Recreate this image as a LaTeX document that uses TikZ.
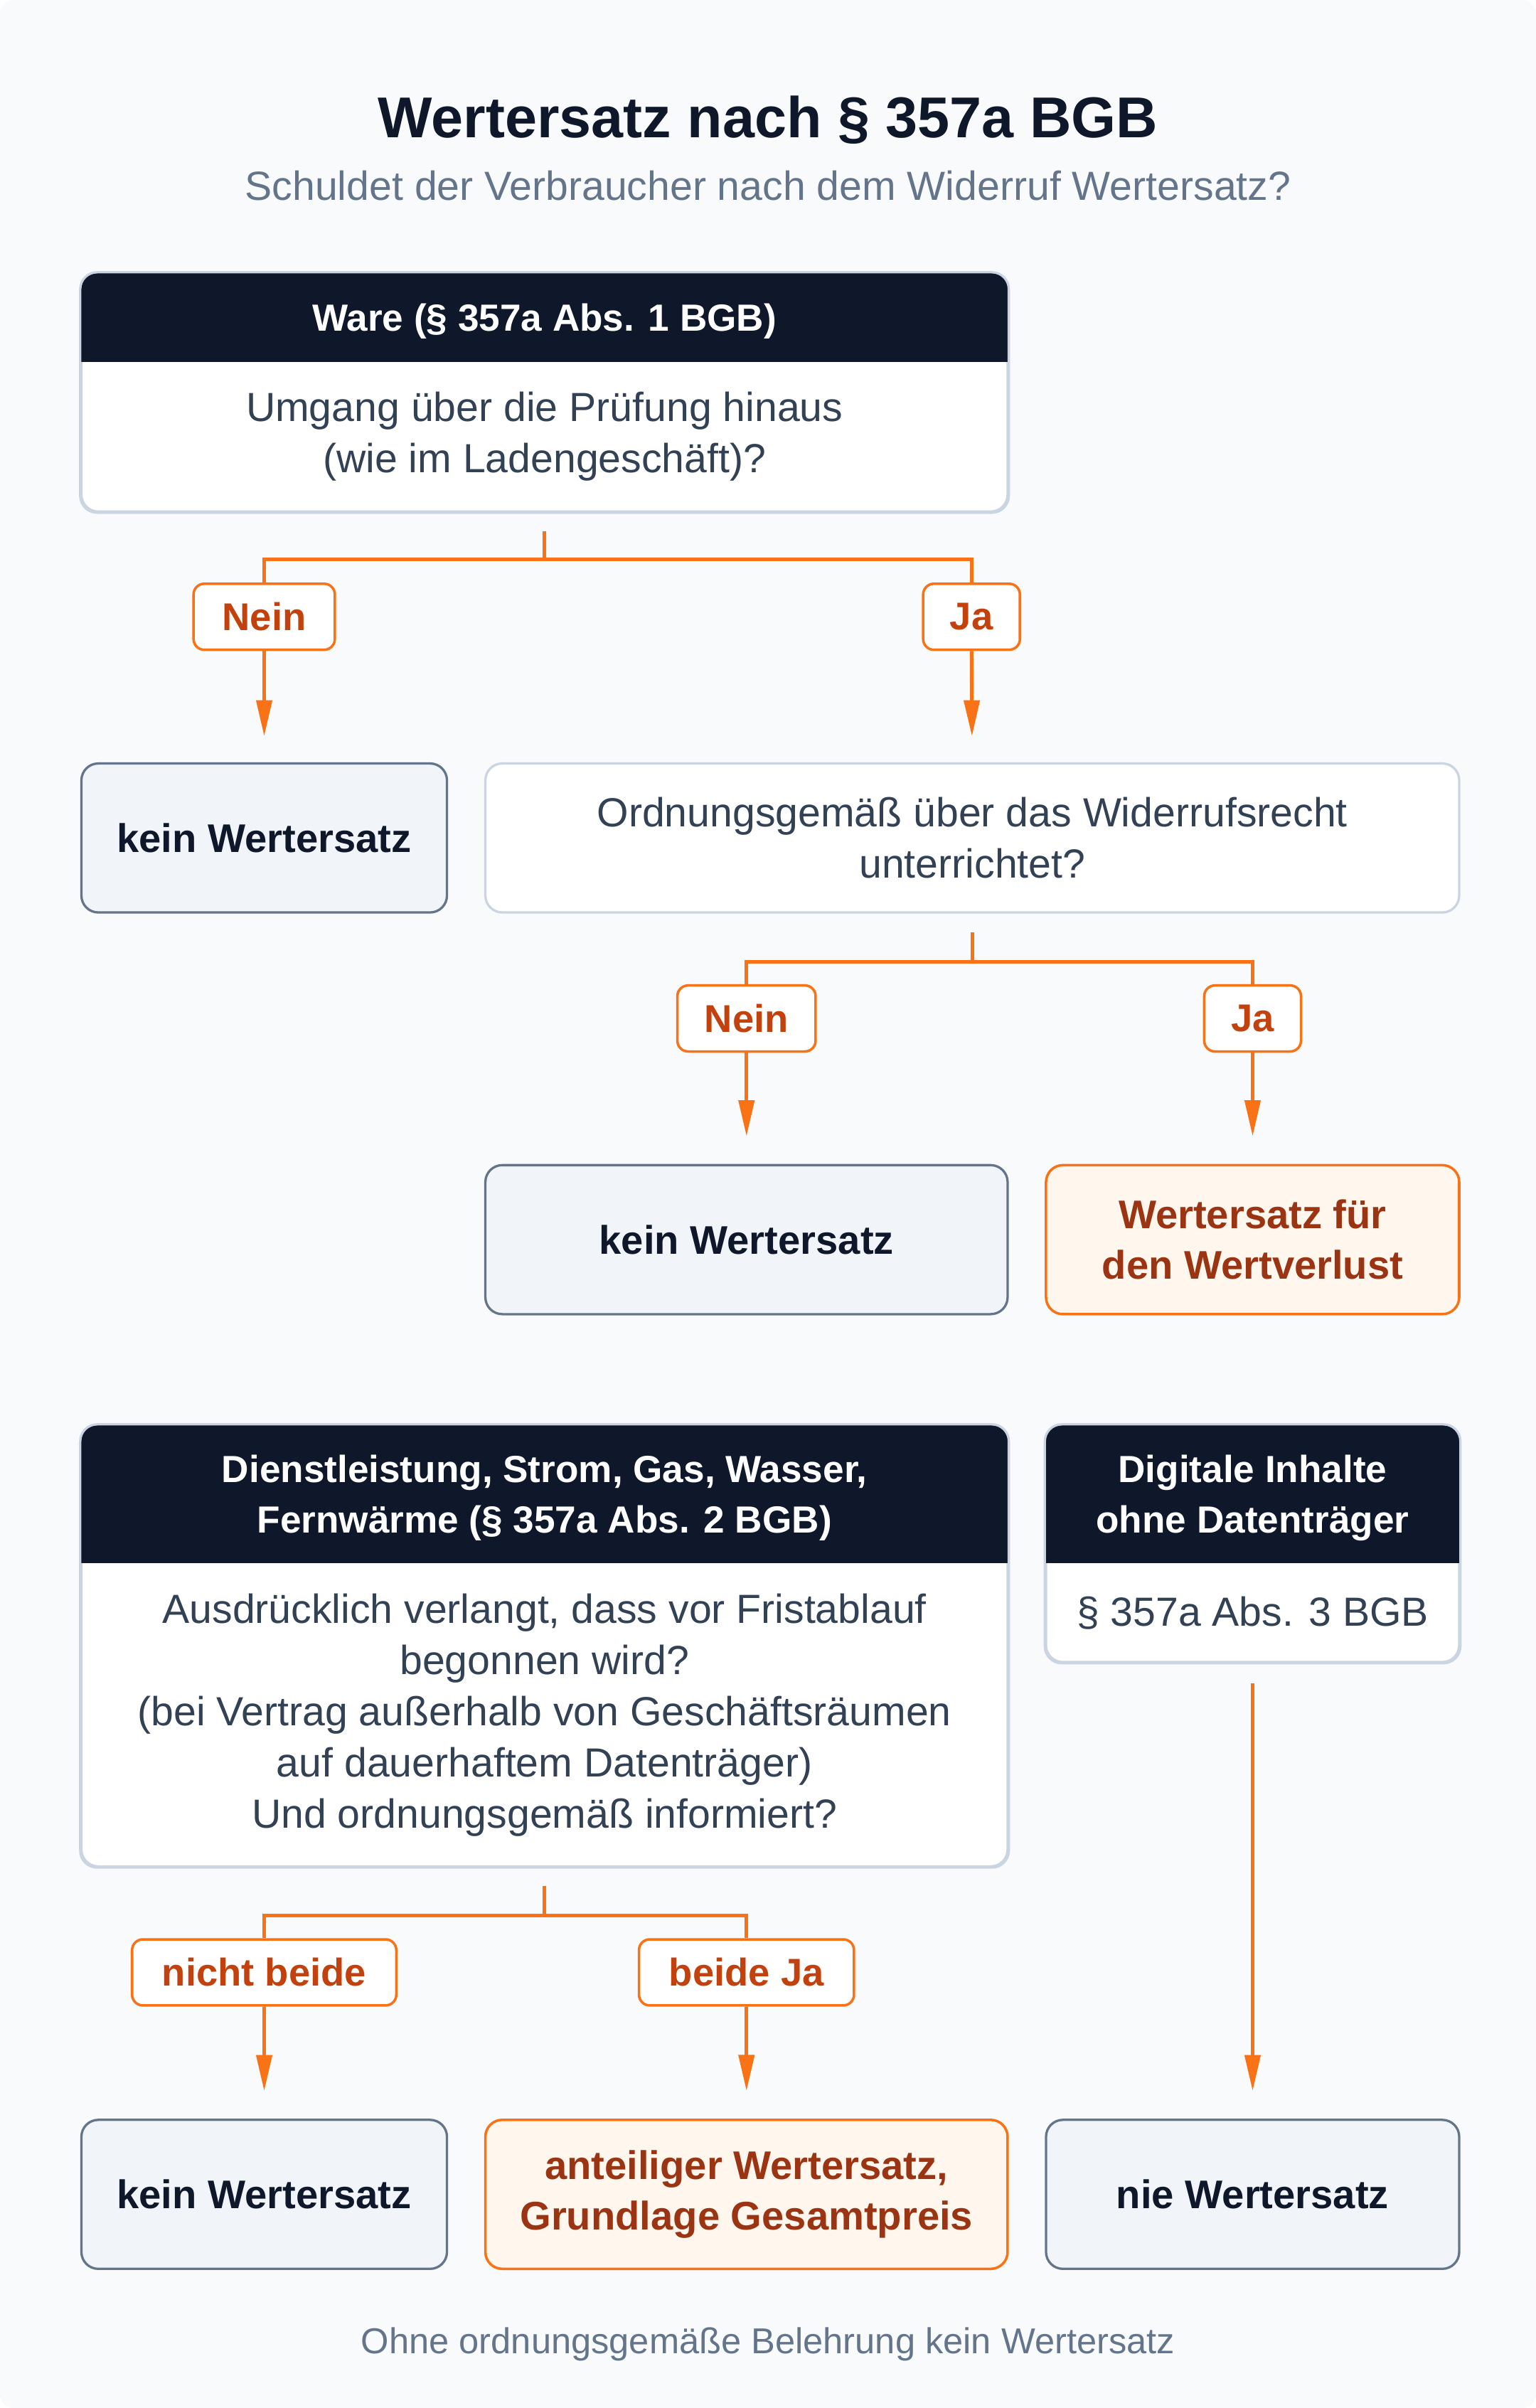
\documentclass[tikz,border=0pt]{standalone}
\usepackage{fontspec}
\setmainfont{Liberation Sans}
\usetikzlibrary{arrows.meta,calc}
\newlength{\px}
\setlength{\px}{0.03cm}
\definecolor{hintergrund}{HTML}{F8FAFC}
\definecolor{navy}{HTML}{0F172A}
\definecolor{textgrau}{HTML}{334155}
\definecolor{schiefer}{HTML}{64748B}
\definecolor{randhell}{HTML}{CBD5E1}
\definecolor{grauweiss}{HTML}{F1F5F9}
\definecolor{orange}{HTML}{F97316}
\definecolor{orangetext}{HTML}{C2410C}
\definecolor{orangehell}{HTML}{FFF7ED}
\definecolor{braun}{HTML}{9A3412}
\tikzset{
  card/.style={draw=randhell, fill=white, line width=1.3pt, rounded corners=11\px},
  kopf/.style={fill=navy, text=white, font=\fontsize{21}{28.2}\selectfont\bfseries, align=center, inner sep=0pt, text depth=0pt},
  frage/.style={text=textgrau, font=\fontsize{22.6}{28.4}\selectfont, align=center},
  marke/.style={draw=orange, fill=white, line width=1.4pt, rounded corners=7\px, text=orangetext,
    font=\fontsize{21.5}{26}\selectfont\bfseries, minimum height=43\px, inner sep=0pt},
  nein/.style={draw=schiefer, fill=grauweiss, line width=1.3pt, rounded corners=11\px, text=navy,
    font=\fontsize{22.2}{28.2}\selectfont\bfseries, align=center, minimum height=97\px},
  ja/.style={draw=orange, fill=orangehell, line width=1.4pt, rounded corners=11\px, text=braun,
    font=\fontsize{22.2}{28.2}\selectfont\bfseries, align=center, minimum height=97\px},
  linie/.style={draw=orange, line width=2pt},
  pfeil/.style={draw=orange, line width=2pt, -{Triangle[length=20pt,width=8.6pt]}},
}
\begin{document}
\begin{tikzpicture}[x=\px,y=-\px]
  \useasboundingbox (0,0) rectangle (1000,1567.6);
  \fill[white] (0,0) rectangle (1000,1567.6);
  \fill[hintergrund, rounded corners=9\px] (0,0) rectangle (1000,1567.6);

  % Titel
  \node[text=navy, font=\fontsize{32}{38}\selectfont\bfseries] (titel) at (500,78) {Wertersatz nach § 357a BGB};
  \node[text=schiefer, font=\fontsize{22.6}{28}\selectfont] (untertitel) at (500,121) {Schuldet der Verbraucher nach dem Widerruf Wertersatz?};

  % Ware
  \node[card, minimum width=603\px, minimum height=155\px] (ware) at (354.5,255.5) {};
  \begin{scope}
    \clip[rounded corners=11\px] (ware.south west) rectangle (ware.north east);
    \node[kopf, minimum width=603\px, minimum height=58\px, anchor=north] (warekopf) at (ware.north) {Ware (§ 357a Abs. 1 BGB)};
  \end{scope}
  \draw[randhell, line width=1.3pt, rounded corners=11\px] (ware.south west) rectangle (ware.north east);
  \node[frage] (warefrage) at (354.5,284) {Umgang über die Prüfung hinaus\\(wie im Ladengeschäft)?};

  \coordinate (gabel1) at (354.5,364);
  \node[marke, minimum width=92\px] (nein1) at (172,401.5) {Nein};
  \node[marke, minimum width=63\px] (ja1) at (632.5,401.5) {Ja};
  \draw[linie, shorten <=10.2pt] (ware.south) -- (gabel1);
  \draw[linie] (gabel1) -| (nein1.north);
  \draw[linie] (gabel1) -| (ja1.north);

  \node[nein, minimum width=238\px] (kein1) at (172,545.5) {kein Wertersatz};
  \node[card, frage, minimum width=634\px, minimum height=97\px] (belehrt) at (633,545.5) {Ordnungsgemäß über das Widerrufsrecht\\unterrichtet?};
  \draw[pfeil, shorten >=14.5pt] (nein1) -- (kein1);
  \draw[pfeil, shorten >=14.5pt] (ja1) -- (belehrt);

  \coordinate (gabel2) at (633,626);
  \node[marke, minimum width=90\px] (nein2) at (486,663) {Nein};
  \node[marke, minimum width=63\px] (ja2) at (815.5,663) {Ja};
  \draw[linie, shorten <=10.2pt] (belehrt.south) -- (gabel2);
  \draw[linie] (gabel2) -| (nein2.north);
  \draw[linie] (gabel2) -| (ja2.north);

  \node[nein, minimum width=340\px] (kein2) at (486,807) {kein Wertersatz};
  \node[ja, minimum width=269\px] (verlust) at (815.5,807) {Wertersatz für\\den Wertverlust};
  \draw[pfeil, shorten >=15.4pt] (nein2) -- (kein2);
  \draw[pfeil, shorten >=15.4pt] (ja2) -- (verlust);

  % Dienstleistung
  \node[card, minimum width=603\px, minimum height=287\px] (dienst) at (354.5,1071.5) {};
  \begin{scope}
    \clip[rounded corners=11\px] (dienst.south west) rectangle (dienst.north east);
    \node[kopf, minimum width=603\px, minimum height=90\px, anchor=north] (dienstkopf) at (dienst.north) {Dienstleistung, Strom, Gas, Wasser,\\Fernwärme (§ 357a Abs. 2 BGB)};
  \end{scope}
  \draw[randhell, line width=1.3pt, rounded corners=11\px] (dienst.south west) rectangle (dienst.north east);
  \node[frage] (dienstfrage) at (354.5,1116.5) {Ausdrücklich verlangt, dass vor Fristablauf\\begonnen wird?\\(bei Vertrag außerhalb von Geschäftsräumen\\auf dauerhaftem Datenträger)\\Und ordnungsgemäß informiert?};

  % Digitale Inhalte
  \node[card, minimum width=269\px, minimum height=154\px] (digital) at (815.5,1005) {};
  \begin{scope}
    \clip[rounded corners=11\px] (digital.south west) rectangle (digital.north east);
    \node[kopf, minimum width=269\px, minimum height=90\px, anchor=north] (digitalkopf) at (digital.north) {Digitale Inhalte\\ohne Datenträger};
  \end{scope}
  \draw[randhell, line width=1.3pt, rounded corners=11\px] (digital.south west) rectangle (digital.north east);
  \node[frage] (digitalnorm) at (815.5,1050) {§ 357a Abs. 3 BGB};

  \coordinate (gabel3) at (354.5,1247);
  \node[marke, minimum width=172\px] (nichtbeide) at (172,1284) {nicht beide};
  \node[marke, minimum width=140\px] (beideja) at (486,1284) {beide Ja};
  \draw[linie, shorten <=10.2pt] (dienst.south) -- (gabel3);
  \draw[linie] (gabel3) -| (nichtbeide.north);
  \draw[linie] (gabel3) -| (beideja.north);

  \node[nein, minimum width=238\px] (kein3) at (172,1428.5) {kein Wertersatz};
  \node[ja, minimum width=340\px] (anteil) at (486,1428.5) {anteiliger Wertersatz,\\Grundlage Gesamtpreis};
  \node[nein, minimum width=269\px] (nie) at (815.5,1428.5) {nie Wertersatz};
  \draw[pfeil, shorten >=15.4pt] (nichtbeide) -- (kein3);
  \draw[pfeil, shorten >=15.4pt] (beideja) -- (anteil);
  \draw[pfeil, shorten <=11.1pt, shorten >=15.4pt] (digital) -- (nie);

  \node[text=schiefer, font=\fontsize{20}{24}\selectfont] (fussnote) at (500,1526) {Ohne ordnungsgemäße Belehrung kein Wertersatz};
\end{tikzpicture}
\end{document}
